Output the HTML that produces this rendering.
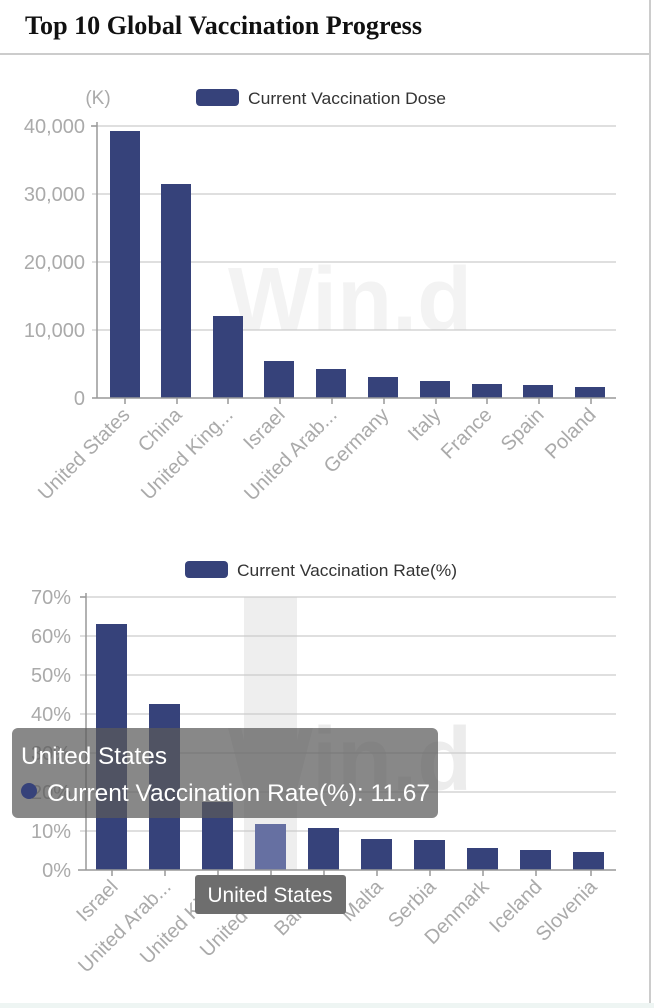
<!DOCTYPE html>
<html><head><meta charset="utf-8"><style>
html,body{margin:0;padding:0;background:#fff;}
body{width:654px;height:1008px;overflow:hidden;position:relative;font-family:"Liberation Sans",sans-serif;}
</style></head><body>
<svg width="654" height="1008" viewBox="0 0 654 1008" xmlns="http://www.w3.org/2000/svg" style="position:absolute;left:0;top:0">
<rect x="0" y="0" width="654" height="1008" fill="#fff"/>
<line x1="650" y1="0" x2="650" y2="1008" stroke="#ccc" stroke-width="2"/>
<text x="25" y="34" font-family="Liberation Serif" font-weight="bold" font-size="26" fill="#111" textLength="397" lengthAdjust="spacingAndGlyphs">Top 10 Global Vaccination Progress</text>
<line x1="0" y1="54" x2="650" y2="54" stroke="#ccc" stroke-width="2"/>

<text x="350" y="330" font-size="90" font-weight="bold" fill="#f3f3f3" text-anchor="middle">Win.d</text>

<text x="98" y="104" font-size="19" fill="#aaa" text-anchor="middle">(K)</text>
<rect x="196" y="89" width="43" height="17" rx="4" fill="#36427a"/>
<text x="248" y="104" font-size="17" fill="#333" textLength="198" lengthAdjust="spacingAndGlyphs">Current Vaccination Dose</text>
<g stroke="#ccc" stroke-width="1.3">
<line x1="92" y1="126" x2="616" y2="126"/><line x1="92" y1="194" x2="616" y2="194"/>
<line x1="92" y1="262" x2="616" y2="262"/><line x1="92" y1="330" x2="616" y2="330"/>
</g>
<g font-size="20" fill="#aaa" text-anchor="end">
<text x="85" y="133">40,000</text><text x="85" y="201">30,000</text><text x="85" y="269">20,000</text><text x="85" y="337">10,000</text><text x="85" y="405">0</text>
</g>
<g fill="#36427a">
<rect x="110" y="131" width="30" height="267"/>
<rect x="161" y="184" width="30" height="214"/>
<rect x="213" y="316" width="30" height="82"/>
<rect x="264" y="361" width="30" height="37"/>
<rect x="316" y="369" width="30" height="29"/>
<rect x="368" y="377" width="30" height="21"/>
<rect x="420" y="381" width="30" height="17"/>
<rect x="472" y="384" width="30" height="14"/>
<rect x="523" y="385" width="30" height="13"/>
<rect x="575" y="387" width="30" height="11"/>
</g>
<g stroke="#999" stroke-width="1.5">
<line x1="97" y1="122" x2="97" y2="398"/><line x1="91" y1="126" x2="97" y2="126"/>
<line x1="92" y1="398" x2="616" y2="398"/>
<line x1="125" y1="398" x2="125" y2="404"/><line x1="177" y1="398" x2="177" y2="404"/><line x1="228" y1="398" x2="228" y2="404"/><line x1="280" y1="398" x2="280" y2="404"/><line x1="332" y1="398" x2="332" y2="404"/><line x1="384" y1="398" x2="384" y2="404"/><line x1="436" y1="398" x2="436" y2="404"/><line x1="487" y1="398" x2="487" y2="404"/><line x1="539" y1="398" x2="539" y2="404"/><line x1="591" y1="398" x2="591" y2="404"/>
</g>
<g font-size="20" fill="#aaa" text-anchor="end">
<text transform="translate(131,416) rotate(-45)">United States</text>
<text transform="translate(183,416) rotate(-45)">China</text>
<text transform="translate(234,416) rotate(-45)">United King...</text>
<text transform="translate(286,416) rotate(-45)">Israel</text>
<text transform="translate(338,416) rotate(-45)">United Arab...</text>
<text transform="translate(390,416) rotate(-45)">Germany</text>
<text transform="translate(442,416) rotate(-45)">Italy</text>
<text transform="translate(493,416) rotate(-45)">France</text>
<text transform="translate(545,416) rotate(-45)">Spain</text>
<text transform="translate(597,416) rotate(-45)">Poland</text>
</g>

<rect x="185" y="561" width="43" height="17" rx="4" fill="#36427a"/>
<text x="237" y="576" font-size="17" fill="#333" textLength="220" lengthAdjust="spacingAndGlyphs">Current Vaccination Rate(%)</text>
<rect x="244" y="597" width="53" height="273" fill="#eeeeee"/>
<text x="350" y="790" font-size="90" font-weight="bold" fill="#ececec" text-anchor="middle">Win.d</text>
<g stroke="#ccc" stroke-width="1.3">
<line x1="80" y1="597" x2="616" y2="597"/><line x1="80" y1="636" x2="616" y2="636"/><line x1="80" y1="675" x2="616" y2="675"/><line x1="80" y1="714" x2="616" y2="714"/><line x1="80" y1="753" x2="616" y2="753"/><line x1="80" y1="792" x2="616" y2="792"/><line x1="80" y1="831" x2="616" y2="831"/>
</g>
<g font-size="20" fill="#aaa" text-anchor="end">
<text x="71" y="604">70%</text><text x="71" y="643">60%</text><text x="71" y="682">50%</text><text x="71" y="721">40%</text><text x="71" y="760">30%</text><text x="71" y="799">20%</text><text x="71" y="838">10%</text><text x="71" y="877">0%</text>
</g>
<g fill="#36427a">
<rect x="96" y="624" width="31" height="246"/>
<rect x="149" y="704" width="31" height="166"/>
<rect x="202" y="802" width="31" height="68"/>
<rect x="308" y="828" width="31" height="42"/>
<rect x="361" y="839" width="31" height="31"/>
<rect x="414" y="840" width="31" height="30"/>
<rect x="467" y="848" width="31" height="22"/>
<rect x="520" y="850" width="31" height="20"/>
<rect x="573" y="852" width="31" height="18"/>
</g>
<rect x="255" y="824" width="31" height="46" fill="#6670a2"/>
<g stroke="#999" stroke-width="1.5">
<line x1="86" y1="593" x2="86" y2="870"/><line x1="80" y1="597" x2="86" y2="597"/>
<line x1="78" y1="870" x2="616" y2="870"/>
<line x1="112" y1="870" x2="112" y2="876"/><line x1="165" y1="870" x2="165" y2="876"/><line x1="218" y1="870" x2="218" y2="876"/><line x1="271" y1="870" x2="271" y2="876"/><line x1="324" y1="870" x2="324" y2="876"/><line x1="377" y1="870" x2="377" y2="876"/><line x1="430" y1="870" x2="430" y2="876"/><line x1="483" y1="870" x2="483" y2="876"/><line x1="536" y1="870" x2="536" y2="876"/><line x1="591" y1="870" x2="591" y2="876"/>
</g>
<g font-size="20" fill="#aaa" text-anchor="end">
<text transform="translate(119,888) rotate(-45)">Israel</text>
<text transform="translate(172,888) rotate(-45)">United Arab...</text>
<text transform="translate(225,888) rotate(-45)">United Kin...</text>
<text transform="translate(278,888) rotate(-45)">United St...</text>
<text transform="translate(331,888) rotate(-45)">Bahrain</text>
<text transform="translate(384,888) rotate(-45)">Malta</text>
<text transform="translate(437,888) rotate(-45)">Serbia</text>
<text transform="translate(490,888) rotate(-45)">Denmark</text>
<text transform="translate(543,888) rotate(-45)">Iceland</text>
<text transform="translate(598,888) rotate(-45)">Slovenia</text>
</g>
<rect x="12" y="728" width="426" height="90" rx="6" fill="rgba(90,90,90,0.72)"/>
<text x="21" y="764" font-size="24" fill="#fff" textLength="146" lengthAdjust="spacingAndGlyphs">United States</text>
<circle cx="29" cy="791" r="8" fill="#36427a"/>
<text x="47" y="801" font-size="24" fill="#fff" textLength="383" lengthAdjust="spacingAndGlyphs">Current Vaccination Rate(%): 11.67</text>
<rect x="195" y="875" width="151" height="39" rx="3" fill="#6e6e6e"/>
<text x="270" y="902" font-size="21" fill="#fff" text-anchor="middle" textLength="125" lengthAdjust="spacingAndGlyphs">United States</text>
<rect x="0" y="1003" width="654" height="5" fill="#eef5f3"/>
</svg>
</body></html>
